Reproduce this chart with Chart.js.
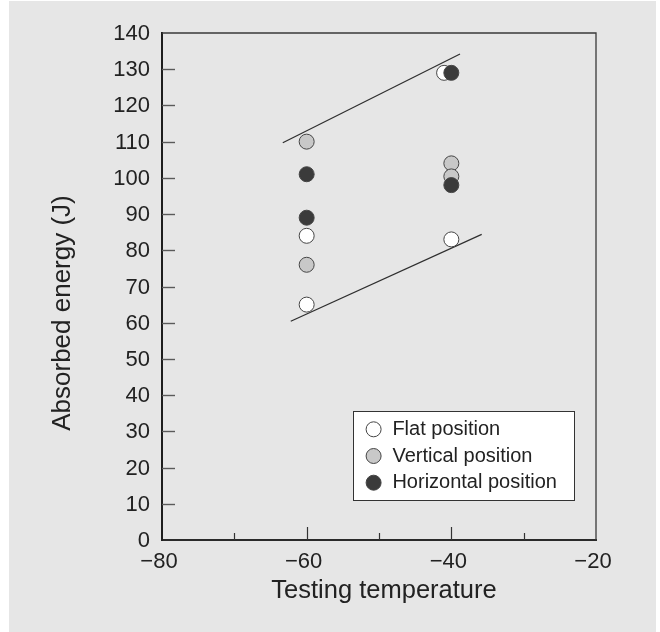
<!DOCTYPE html>
<html>
<head>
<meta charset="utf-8">
<script src="https://cdn.jsdelivr.net/npm/chart.js@4.4.0/dist/chart.umd.min.js"></script>
<style>
  html, body { margin: 0; padding: 0; background: #fff; }
  #wrap { position: absolute; left: 9px; top: 1px; width: 647px; height: 631px; background: #e6e6e6; }
</style>
</head>
<body>
<div id="wrap"><canvas id="energyChart"></canvas></div>
<script>
const FONT = '"Liberation Sans", Arial, Helvetica, sans-serif';

// absorbed energy (J) per specimen position
const flatTemps = [-60, -60, -41, -40];
const flatEnergy = [84, 65, 129, 83];
const verticalTemps = [-60, -60, -40, -40];
const verticalEnergy = [110, 76, 104, 100.4];
const horizontalTemps = [-60, -60, -40, -40];
const horizontalEnergy = [101, 89, 129, 98];

// the two hand-drawn band lines
const upperBandX = [-63.3, -38.8];
const upperBandY = [109.7, 134.2];
const lowerBandX = [-62.2, -35.8];
const lowerBandY = [60.4, 84.4];

// axes
const xTicks = [-80, -70, -60, -50, -40, -30, -20];
const xLabelled = [-80, -60, -40, -20];
const yMin = 0, yMax = 140, yStep = 10;

const toPoints = (xs, ys) => xs.map((x, i) => ({ x: x, y: ys[i] }));

function markerSet(label, xs, ys, fill, order) {
    return {
        label: label,
        data: toPoints(xs, ys),
        pointBackgroundColor: fill,
        pointBorderColor: '#454545',
        pointBorderWidth: 1,
        pointRadius: 7.5,
        showLine: false,
        order: order
    };
}

function bandLine(xs, ys) {
    return {
        label: '',
        isBand: true,
        data: toPoints(xs, ys),
        showLine: true,
        borderColor: '#2e2e2e',
        borderWidth: 1.2,
        pointRadius: 0,
        order: 10
    };
}

// frame, inward ticks, axis titles and the boxed legend
const paperPlugin = {
    id: 'paper',
    beforeDatasetsDraw(chart) {
        const { ctx, chartArea: a, scales: { x, y } } = chart;
        ctx.save();
        ctx.strokeStyle = '#3a3a3a';
        ctx.lineWidth = 1.3;
        ctx.beginPath();
        ctx.moveTo(a.left, a.top);
        ctx.lineTo(a.right, a.top);
        ctx.lineTo(a.right, a.bottom);
        ctx.stroke();

        ctx.strokeStyle = '#5a5a5a';
        ctx.lineWidth = 1.4;
        y.ticks.forEach(t => {
            if (t.value === yMin || t.value === yMax) return;
            const py = Math.round(y.getPixelForValue(t.value)) + 0.5;
            ctx.beginPath();
            ctx.moveTo(a.left, py);
            ctx.lineTo(a.left + 13, py);
            ctx.stroke();
        });

        ctx.strokeStyle = '#333';
        ctx.lineWidth = 1.2;
        x.ticks.forEach(t => {
            if (t.value === x.min || t.value === x.max) return;
            const px = Math.round(x.getPixelForValue(t.value)) + 0.5;
            const len = xLabelled.includes(t.value) ? 13 : 7;
            ctx.beginPath();
            ctx.moveTo(px, a.bottom);
            ctx.lineTo(px, a.bottom - len);
            ctx.stroke();
        });
        ctx.restore();
    },
    afterDraw(chart) {
        const { ctx, chartArea: a } = chart;
        ctx.save();
        ctx.fillStyle = '#222';
        ctx.textAlign = 'center';
        ctx.textBaseline = 'middle';

        ctx.font = '25.5px ' + FONT;
        ctx.fillText('Testing temperature', (a.left + a.right) / 2 + 5, a.bottom + 50.5);

        ctx.font = '26px ' + FONT;
        ctx.translate(53.5, chart.height / 2 - 3.5);
        ctx.rotate(-Math.PI / 2);
        ctx.fillText('Absorbed energy (J)', 0, 0);
        ctx.restore();

        // legend box
        const w = 221.4, h = 89, rowGap = 26.7;
        const left = a.right - 21.7 - w;
        const top = a.bottom - 40 - h;
        ctx.save();
        ctx.fillStyle = '#fff';
        ctx.fillRect(left, top, w, h);
        ctx.strokeStyle = '#333';
        ctx.lineWidth = 1;
        ctx.strokeRect(Math.round(left) + 0.5, Math.round(top) + 0.5, Math.round(w), Math.round(h));
        ctx.font = '20px ' + FONT;
        ctx.textBaseline = 'middle';
        chart.data.datasets.filter(d => !d.isBand).forEach((d, i) => {
            const cy = top + 18.3 + i * rowGap;
            ctx.beginPath();
            ctx.arc(left + 20.7, cy, 7.5, 0, Math.PI * 2);
            ctx.fillStyle = d.pointBackgroundColor;
            ctx.fill();
            ctx.strokeStyle = d.pointBorderColor;
            ctx.lineWidth = 1;
            ctx.stroke();
            ctx.fillStyle = '#222';
            ctx.fillText(d.label, left + 39.5, cy);
        });
        ctx.restore();
    }
};

const ctx = document.getElementById('energyChart').getContext('2d');

const energyChart = new Chart(ctx, {
    type: 'scatter',
    data: {
        datasets: [
            markerSet('Flat position', flatTemps, flatEnergy, '#ffffff', 3),
            markerSet('Vertical position', verticalTemps, verticalEnergy, '#c8c8c8', 2),
            markerSet('Horizontal position', horizontalTemps, horizontalEnergy, '#3b3b3b', 1),
            bandLine(upperBandX, upperBandY),
            bandLine(lowerBandX, lowerBandY)
        ]
    },
    options: {
        responsive: true,
        maintainAspectRatio: false,
        animation: false,
        events: [],
        layout: { padding: { top: 32, right: 60, left: 0, bottom: 0 } },
        plugins: {
            legend: { display: false },
            tooltip: { enabled: false }
        },
        scales: {
            x: {
                type: 'linear',
                min: -80,
                max: -20,
                afterBuildTicks: s => { s.ticks = xTicks.map(v => ({ value: v })); },
                afterFit: s => { s.height = 92; },
                grid: { display: false, drawTicks: false },
                border: { display: true, color: '#2a2a2a', width: 2 },
                ticks: {
                    autoSkip: false,
                    maxRotation: 0,
                    padding: 9,
                    labelOffset: -3,
                    color: '#222',
                    font: { family: FONT, size: 22 },
                    callback: v => xLabelled.includes(v) ? String(v).replace('-', '\u2212') : ''
                }
            },
            y: {
                min: yMin,
                max: yMax,
                afterFit: s => { s.width = 153; },
                grid: { display: false, drawTicks: false },
                border: { display: true, color: '#1e1e1e', width: 2 },
                ticks: {
                    stepSize: yStep,
                    padding: 12,
                    labelOffset: 1,
                    color: '#222',
                    font: { family: FONT, size: 22 }
                }
            }
        }
    },
    plugins: [paperPlugin]
});
</script>
</body>
</html>
